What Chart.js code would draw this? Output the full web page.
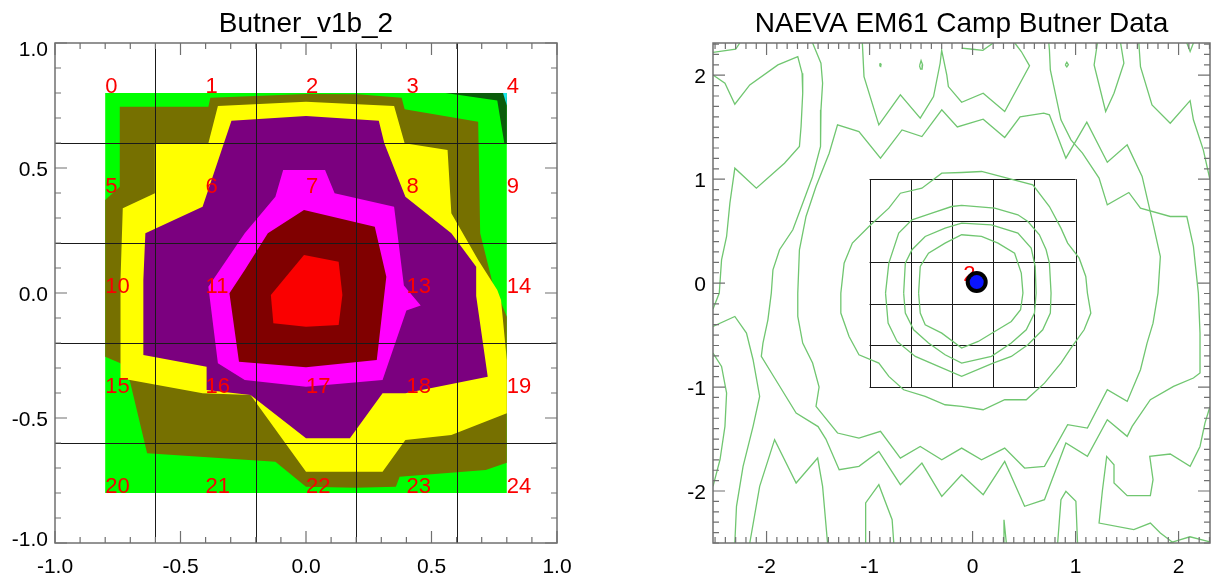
<!DOCTYPE html>
<html lang="en">
<head>
<meta charset="UTF-8" />
<title>Camp Butner EM61 contours</title>
<script src="https://cdn.jsdelivr.net/npm/chart.js"></script>
<style>
  body { margin: 0; background: #fff; }
  canvas { position: absolute; top: 0; }
  #fillChart { left: 0; }
  #lineChart { left: 612px; }
</style>
</head>
<body>
<canvas id="fillChart" width="612" height="580"></canvas>
<canvas id="lineChart" width="609" height="580"></canvas>
<script>
// ---------- Butner_v1b_2 : filled contour bands (outer boundary of each level) ----------
const bandGreen = [[-0.8, 0.8], [0.8, 0.8], [0.8, -0.8], [-0.8, -0.8]];
const bandDarkGreen = [[0.556, 0.8], [0.792, 0.8], [0.8, 0.78], [0.8, 0.6], [0.79, 0.6], [0.762, 0.77]];
const bandCyan = [[0.785, 0.8], [0.8, 0.8], [0.8, 0.75]];
const bandOlive = [
  [-0.742, 0.745], [-0.389, 0.745], [-0.381, 0.781], [0.0, 0.796], [0.206, 0.795], [0.381, 0.781],
  [0.393, 0.735], [0.686, 0.685], [0.694, 0.239], [0.747, 0.025], [0.762, -0.001], [0.8, -0.095],
  [0.8, -0.679], [0.716, -0.708], [0.373, -0.735], [0.358, -0.775], [0.198, -0.779], [0.0, -0.775],
  [-0.122, -0.675], [-0.633, -0.641], [-0.701, -0.355], [-0.739, -0.281], [-0.8, -0.255],
  [-0.8, 0.372], [-0.742, 0.425]
];
const bandYellow = [
  [-0.389, 0.599], [-0.351, 0.748], [0.0, 0.765], [0.351, 0.748], [0.393, 0.599], [0.564, 0.572],
  [0.579, 0.319], [0.686, 0.132], [0.762, 0.012], [0.777, -0.028], [0.8, -0.268], [0.8, -0.481],
  [0.579, -0.568], [0.396, -0.588], [0.305, -0.715], [0.0, -0.715], [-0.221, -0.408], [-0.412, -0.401],
  [-0.701, -0.348], [-0.739, -0.341], [-0.739, 0.052], [-0.73, 0.339], [-0.602, 0.399], [-0.602, 0.599]
];
const bandPurple = [
  [-0.64, 0.239], [-0.412, 0.345], [-0.297, 0.689], [0.0, 0.708], [0.29, 0.689], [0.312, 0.599],
  [0.396, 0.385], [0.579, 0.239], [0.678, 0.105], [0.678, -0.012], [0.724, -0.335], [0.396, -0.401],
  [0.305, -0.401], [0.175, -0.581], [0.0, -0.581], [-0.221, -0.408], [-0.396, -0.388], [-0.396, -0.295],
  [-0.648, -0.248], [-0.648, 0.052]
];
const bandMagenta = [
  [-0.091, 0.492], [0.076, 0.492], [0.114, 0.399], [0.351, 0.345], [0.39, 0.03], [0.457, -0.05],
  [0.4, -0.07], [0.305, -0.348], [0.0, -0.375], [-0.244, -0.348], [-0.351, -0.281], [-0.389, 0.025],
  [-0.244, 0.239], [-0.122, 0.385]
];
const bandMaroon = [
  [-0.008, 0.332], [0.274, 0.265], [0.32, 0.065], [0.282, -0.268], [0.0, -0.297], [-0.267, -0.275],
  [-0.305, -0.001], [-0.244, 0.092], [-0.152, 0.239]
];
const bandRed = [
  [-0.008, 0.152], [0.13, 0.125], [0.145, -0.008], [0.13, -0.128], [0.0, -0.135], [-0.13, -0.121],
  [-0.14, -0.008]
];

// sensor grid (numbered 0..24 row by row) and the cell lines between them
const gridX = [-0.8, -0.4, 0, 0.4, 0.8];
const gridY = [0.8, 0.4, 0, -0.4, -0.8];
const cellLines = [-0.6, -0.2, 0.2, 0.6];
const fillTicks = [-1, -0.5, 0, 0.5, 1];

// ---------- NAEVA EM61 : contour lines ----------
const ringA = [
  [-0.524, -0.096], [-0.508, 0.16], [-0.428, 0.288], [-0.267, 0.385], [-0.106, 0.465], [0.087, 0.449],
  [0.247, 0.385], [0.408, 0.288], [0.473, 0.096], [0.489, -0.096], [0.466, -0.256], [0.376, -0.369],
  [0.215, -0.465], [0.055, -0.561], [-0.106, -0.625], [-0.299, -0.481], [-0.46, -0.401], [-0.508, -0.288],
  [-0.524, -0.096]
];
const ringB = [
  [-0.669, -0.096], [-0.653, 0.192], [-0.588, 0.321], [-0.46, 0.449], [-0.267, 0.529], [-0.106, 0.577],
  [0.183, 0.561], [0.44, 0.481], [0.569, 0.337], [0.608, 0.16], [0.617, -0.096], [0.601, -0.288],
  [0.521, -0.449], [0.376, -0.577], [0.183, -0.705], [-0.106, -0.769], [-0.267, -0.689], [-0.428, -0.577],
  [-0.572, -0.449], [-0.653, -0.288], [-0.669, -0.096]
];
const ringC = [
  [-0.845, -0.096], [-0.813, 0.192], [-0.717, 0.481], [-0.588, 0.609], [-0.395, 0.673], [-0.203, 0.737],
  [-0.106, 0.747], [0.215, 0.721], [0.44, 0.657], [0.537, 0.593], [0.649, 0.465], [0.714, 0.321],
  [0.746, 0.192], [0.762, -0.096], [0.755, -0.288], [0.681, -0.449], [0.537, -0.593], [0.376, -0.705],
  [0.199, -0.769], [-0.106, -0.897], [-0.331, -0.801], [-0.556, -0.705], [-0.733, -0.561], [-0.82, -0.385],
  [-0.845, -0.096]
];
const ringD = [
  [-1.279, -0.096], [-1.247, 0.192], [-1.167, 0.385], [-1.006, 0.545], [-0.813, 0.721], [-0.701, 0.865],
  [-0.492, 0.913], [-0.299, 1.058], [-0.106, 1.064], [0.087, 1.074], [0.585, 0.946], [0.746, 0.737],
  [0.858, 0.529], [0.923, 0.385], [1.035, 0.24], [1.099, 0.064], [1.115, -0.096], [1.148, -0.288],
  [1.083, -0.449], [0.955, -0.625], [0.858, -0.769], [0.698, -0.962], [0.521, -1.122], [0.312, -1.122],
  [0.103, -1.218], [-0.106, -1.186], [-0.267, -1.17], [-0.46, -1.09], [-0.669, -1.026], [-0.813, -0.897],
  [-0.91, -0.769], [-1.103, -0.689], [-1.199, -0.513], [-1.279, -0.288], [-1.279, -0.096]
];
const ringE = [
  [-1.697, -0.096], [-1.681, 0.321], [-1.617, 0.641], [-1.52, 0.929], [-1.392, 1.25], [-1.311, 1.522],
  [-1.103, 1.458], [-0.894, 1.202], [-0.685, 1.474], [-0.492, 1.41], [-0.299, 1.667], [-0.148, 1.503],
  [0.103, 1.577], [0.312, 1.401], [0.461, 1.6], [0.691, 1.635], [0.746, 1.619], [0.906, 1.202],
  [1.109, 1.548], [1.308, 1.163], [1.501, 1.33], [1.646, 1.026], [1.758, 0.545], [1.823, 0.256],
  [1.8, -0.096], [1.752, -0.385], [1.694, -0.577], [1.63, -0.833], [1.501, -1.138], [1.308, -1.026],
  [1.115, -1.394], [0.923, -1.362], [0.698, -1.763], [0.505, -1.779], [0.312, -1.587], [0.087, -1.699],
  [-0.106, -1.587], [-0.299, -1.699], [-0.508, -1.571], [-0.701, -1.683], [-0.894, -1.426], [-1.103, -1.49],
  [-1.311, -1.442], [-1.52, -1.186], [-1.49, -1.0], [-1.553, -0.769], [-1.649, -0.577], [-1.697, -0.321],
  [-1.697, -0.096]
];
const lineOuter = [
  [-1.553, 2.31], [-1.472, 2.115], [-1.456, 1.923], [-1.472, 1.667], [-1.48, 1.506], [-1.472, 1.314],
  [-1.553, 1.026], [-1.649, 0.769], [-1.745, 0.513], [-1.874, 0.321], [-1.938, 0.128], [-1.954, -0.096],
  [-1.987, -0.353], [-2.035, -0.577], [-2.051, -0.705], [-1.922, -0.913], [-1.713, -1.25], [-1.5, -1.38],
  [-1.424, -1.5], [-1.295, -1.795], [-1.103, -1.763], [-0.91, -1.619], [-0.701, -1.939], [-0.492, -1.731],
  [-0.299, -2.051], [-0.106, -1.843], [0.103, -2.035], [0.312, -1.715], [0.505, -2.147], [0.698, -2.083],
  [0.906, -1.538], [1.115, -1.667], [1.308, -1.314], [1.501, -1.474], [1.549, -1.378], [1.726, -1.122],
  [1.951, -0.994], [2.144, -0.913], [2.208, -0.865], [2.208, -0.481], [2.192, -0.096], [2.144, 0.353],
  [2.08, 0.641], [1.919, 0.641], [1.63, 0.721], [1.517, 0.872], [1.308, 0.753], [1.228, 1.01],
  [1.067, 1.25], [0.955, 1.378], [0.858, 1.571], [0.81, 1.795], [0.755, 2.051], [0.746, 2.244], [0.74, 2.31]
];
const lineNorthW = [
  [-1.07, 2.31], [-1.054, 1.987], [-0.91, 1.522], [-0.701, 1.811], [-0.508, 1.587], [-0.379, 1.795],
  [-0.315, 2.115], [-0.3, 2.24], [-0.25, 2.0], [-0.235, 1.891], [-0.106, 1.74], [0.103, 1.827],
  [0.312, 1.651], [0.553, 2.09], [0.473, 2.228], [0.41, 2.31]
];
const lineTopMid = [[-0.106, 2.26], [0.0, 2.25], [0.1, 2.24], [0.2, 2.31]];
const lineNarrow = [[1.212, 2.31], [1.18, 2.099], [1.292, 1.651], [1.373, 1.827], [1.469, 2.115], [1.437, 2.31]];
const lineNorthE = [[1.614, 2.31], [1.63, 2.083], [1.742, 1.715], [1.919, 1.538], [2.112, 1.756], [2.144, 1.571], [2.24, 1.282], [2.305, 0.994]];
const lineNotch = [[2.08, 2.31], [2.112, 2.228], [2.144, 2.31]];
const lineCornerNW = [[-2.52, 2.22], [-2.3, 2.25], [-2.26, 2.31]];
const lineWestLoop = [
  [-2.52, 2.003], [-2.404, 1.923], [-2.308, 1.721], [-2.163, 1.907], [-1.89, 2.099], [-1.697, 2.179],
  [-1.655, 2.019], [-1.649, 1.827], [-1.665, 1.506], [-1.681, 1.314], [-1.826, 1.154], [-2.099, 0.913],
  [-2.308, 1.106], [-2.356, 0.769], [-2.388, 0.449], [-2.437, 0.224], [-2.459, -0.096], [-2.52, -0.25]
];
const lineWestPeak = [
  [-2.52, -0.417], [-2.308, -0.321], [-2.195, -0.481], [-2.131, -0.737], [-2.067, -1.09], [-2.131, -1.378],
  [-2.228, -1.763], [-2.292, -2.147], [-2.308, -2.5]
];
const lineWestBulge = [[-2.52, -0.673], [-2.437, -0.801], [-2.388, -1.058], [-2.404, -1.378], [-2.452, -1.699], [-2.52, -1.955]];
const lineSouthW = [[-2.163, -2.5], [-2.067, -1.955], [-1.922, -1.506], [-1.713, -1.923], [-1.504, -1.683], [-1.456, -1.955], [-1.408, -2.5]];
const lineSouthHump = [[-1.038, -2.5], [-1.038, -2.115], [-0.91, -1.939], [-0.781, -2.276], [-0.765, -2.5]];
const lineSouthSpike = [[0.296, -2.5], [0.305, -2.276], [0.328, -2.5]];
const lineSouthArch = [[0.826, -2.5], [0.858, -2.083], [0.906, -2.003], [1.003, -2.099], [1.019, -2.5]];
const lineSouthE = [
  [1.951, -2.5], [1.823, -2.404], [1.726, -2.308], [1.565, -2.372], [1.228, -2.308], [1.26, -2.0],
  [1.302, -1.667], [1.373, -1.747], [1.373, -1.923], [1.501, -2.045], [1.726, -2.045], [1.752, -1.891],
  [1.72, -1.667], [1.919, -1.644], [2.112, -1.763], [2.208, -1.571], [2.256, -1.346], [2.305, -1.186]
];
const lineCornerSE = [[1.91, -2.5], [2.11, -2.44], [2.305, -2.49]];
const loopDot = [[-0.9, 2.115], [-0.888, 2.105], [-0.892, 2.085], [-0.9, 2.09], [-0.9, 2.115]];
const loopSmallW = [[-0.515, 2.09], [-0.5, 2.14], [-0.485, 2.1], [-0.49, 2.06], [-0.505, 2.06], [-0.515, 2.09]];
const loopSmallE = [[0.9, 2.1], [0.915, 2.125], [0.93, 2.1], [0.915, 2.08], [0.9, 2.1]];

const boxLines = [-1, -0.6, -0.2, 0.2, 0.6, 1];
const target = [0.04, 0.01];
const lineTicks = [-2, -1, 0, 1, 2];

const xy = pts => pts.map(([x, y]) => ({ x, y }));
const FONT = '"Liberation Sans", Arial, Helvetica, sans-serif';
const LABEL_RED = '#fa0000';

// fills each dataset flagged as polygon using the point positions the scales produced
const polygonFill = {
  id: 'polygonFill',
  beforeDatasetsDraw(chart) {
    const { ctx, chartArea: a } = chart;
    ctx.save();
    ctx.beginPath();
    ctx.rect(a.left, a.top, a.width, a.height);
    ctx.clip();
    chart.data.datasets.forEach((ds, i) => {
      if (!ds.polygon) return;
      const pts = chart.getDatasetMeta(i).data;
      ctx.beginPath();
      pts.forEach((p, k) => (k ? ctx.lineTo(p.x, p.y) : ctx.moveTo(p.x, p.y)));
      ctx.closePath();
      ctx.fillStyle = ds.backgroundColor;
      ctx.fill();
    });
    ctx.restore();
  }
};

// thin black cell lines and the red sensor numbers
function drawCells(chart, o) {
  const { ctx, scales: { x, y } } = chart;
  ctx.save();
  ctx.strokeStyle = '#1a1a1a';
  ctx.lineWidth = 1;
  const [s0, s1] = o.span;
  o.lines.forEach(v => {
    const px = Math.round(x.getPixelForValue(v)) + 0.5;
    const py = Math.round(y.getPixelForValue(v)) + 0.5;
    ctx.beginPath();
    ctx.moveTo(px, y.getPixelForValue(s0));
    ctx.lineTo(px, y.getPixelForValue(s1));
    ctx.moveTo(x.getPixelForValue(s0), py);
    ctx.lineTo(x.getPixelForValue(s1), py);
    ctx.stroke();
  });
  ctx.fillStyle = LABEL_RED;
  ctx.font = '22px ' + FONT;
  ctx.textAlign = 'left';
  ctx.textBaseline = 'alphabetic';
  (o.labels || []).forEach(l => ctx.fillText(l.text, x.getPixelForValue(l.x), y.getPixelForValue(l.y)));
  ctx.restore();
}

const cellPlugin = {
  id: 'cells',
  beforeDatasetsDraw(chart, args, o) { if (!o.onTop) drawCells(chart, o); },
  afterDatasetsDraw(chart, args, o) { if (o.onTop) drawCells(chart, o); }
};

// box axes with inward ticks on all four sides, tick labels and title
const framePlugin = {
  id: 'frame',
  afterDraw(chart, args, o) {
    const { ctx, chartArea: a, scales: { x, y } } = chart;
    ctx.save();
    ctx.strokeStyle = '#707070';
    ctx.lineWidth = 1.5;
    ctx.strokeRect(a.left, a.top, a.width, a.height);
    ctx.lineWidth = 1.2;
    const steps = (s) => {
      const out = [];
      for (let k = Math.ceil(s.min / o.minor - 1e-6); k * o.minor <= s.max + 1e-6; k++) {
        const v = k * o.minor;
        out.push({ v, major: Math.abs(v / o.major - Math.round(v / o.major)) < 1e-6 });
      }
      return out;
    };
    ctx.beginPath();
    steps(x).forEach(t => {
      const px = x.getPixelForValue(t.v);
      const len = t.major ? 12 : 6;
      ctx.moveTo(px, a.bottom); ctx.lineTo(px, a.bottom - len);
      ctx.moveTo(px, a.top); ctx.lineTo(px, a.top + len);
    });
    steps(y).forEach(t => {
      const py = y.getPixelForValue(t.v);
      const len = t.major ? 12 : 6;
      ctx.moveTo(a.left, py); ctx.lineTo(a.left + len, py);
      ctx.moveTo(a.right, py); ctx.lineTo(a.right - len, py);
    });
    ctx.stroke();

    ctx.fillStyle = '#000';
    ctx.font = '21px ' + FONT;
    ctx.textBaseline = 'alphabetic';
    ctx.textAlign = 'center';
    o.ticks.forEach(v => ctx.fillText(o.fmt(v), x.getPixelForValue(v), a.bottom + 30));
    ctx.textAlign = 'right';
    o.ticks.forEach((v, i) => {
      let shift = 0;
      if (i === 0) shift = -o.endInset;
      if (i === o.ticks.length - 1) shift = o.endInset;
      ctx.fillText(o.fmt(v), a.left - 7, y.getPixelForValue(v) + 7.5 + shift);
    });

    ctx.font = '28px ' + FONT;
    ctx.textAlign = 'center';
    ctx.fillText(o.title, (a.left + a.right) / 2, 32);
    ctx.restore();
  }
};

const quiet = { legend: { display: false }, tooltip: { enabled: false } };

// ---------- left chart ----------
const bands = [
  [bandGreen, '#00ff00'],
  [bandDarkGreen, '#0b5c0b'],
  [bandCyan, '#19e6f0'],
  [bandOlive, '#767000'],
  [bandYellow, '#ffff00'],
  [bandPurple, '#7b007f'],
  [bandMagenta, '#ff00ff'],
  [bandMaroon, '#800000'],
  [bandRed, LABEL_RED]
];

const sensorLabels = [];
gridY.forEach((gy, r) => gridX.forEach((gx, c) => sensorLabels.push({ text: String(r * 5 + c), x: gx, y: gy })));

new Chart(document.getElementById('fillChart'), {
  type: 'scatter',
  data: {
    datasets: bands.map(([pts, color]) => ({
      data: xy(pts), polygon: true, backgroundColor: color, pointRadius: 0, showLine: false
    }))
  },
  options: {
    responsive: false,
    animation: false,
    events: [],
    layout: { padding: { left: 55, top: 43, right: 55, bottom: 37 } },
    scales: {
      x: { type: 'linear', min: -1, max: 1, display: false },
      y: { type: 'linear', min: -1, max: 1, display: false }
    },
    plugins: {
      ...quiet,
      cells: { onTop: true, lines: cellLines, span: [-1, 1], labels: sensorLabels },
      frame: {
        title: 'Butner_v1b_2', ticks: fillTicks, minor: 0.1, major: 0.5, endInset: 5,
        fmt: v => v.toFixed(1)
      }
    }
  },
  plugins: [polygonFill, cellPlugin, framePlugin]
});

// ---------- right chart ----------
const contourLines = [
  ringA, ringB, ringC, ringD, ringE, lineOuter, lineNorthW, lineTopMid, lineNarrow, lineNorthE,
  lineNotch, lineCornerNW, lineWestLoop, lineWestPeak, lineWestBulge, lineSouthW, lineSouthHump,
  lineSouthSpike, lineSouthArch, lineSouthE, lineCornerSE, loopDot, loopSmallW, loopSmallE
];

// Chart.js paints the first dataset last, so the blue centre comes first
new Chart(document.getElementById('lineChart'), {
  type: 'scatter',
  data: {
    datasets: [
      { data: xy([target]), pointRadius: 7, backgroundColor: '#0a14ff', borderWidth: 0 },
      { data: xy([target]), pointRadius: 11, backgroundColor: '#000', borderWidth: 0 },
      ...contourLines.map(pts => ({
        data: xy(pts), showLine: true, borderColor: 'rgb(112,198,112)', borderWidth: 1.3,
        pointRadius: 0, tension: 0, fill: false
      }))
    ]
  },
  options: {
    responsive: false,
    animation: false,
    events: [],
    layout: { padding: { left: 101, top: 43, right: 8, bottom: 37 } },
    scales: {
      x: { type: 'linear', min: -2.52, max: 2.305, display: false },
      y: { type: 'linear', min: -2.5, max: 2.31, display: false }
    },
    plugins: {
      ...quiet,
      cells: { onTop: false, lines: boxLines, span: [-1, 1], labels: [{ text: '2', x: -0.09, y: 0.025 }] },
      frame: {
        title: 'NAEVA EM61 Camp Butner Data', ticks: lineTicks, minor: 0.1, major: 1, endInset: 0,
        fmt: v => String(v)
      }
    }
  },
  plugins: [cellPlugin, framePlugin]
});
</script>
</body>
</html>
